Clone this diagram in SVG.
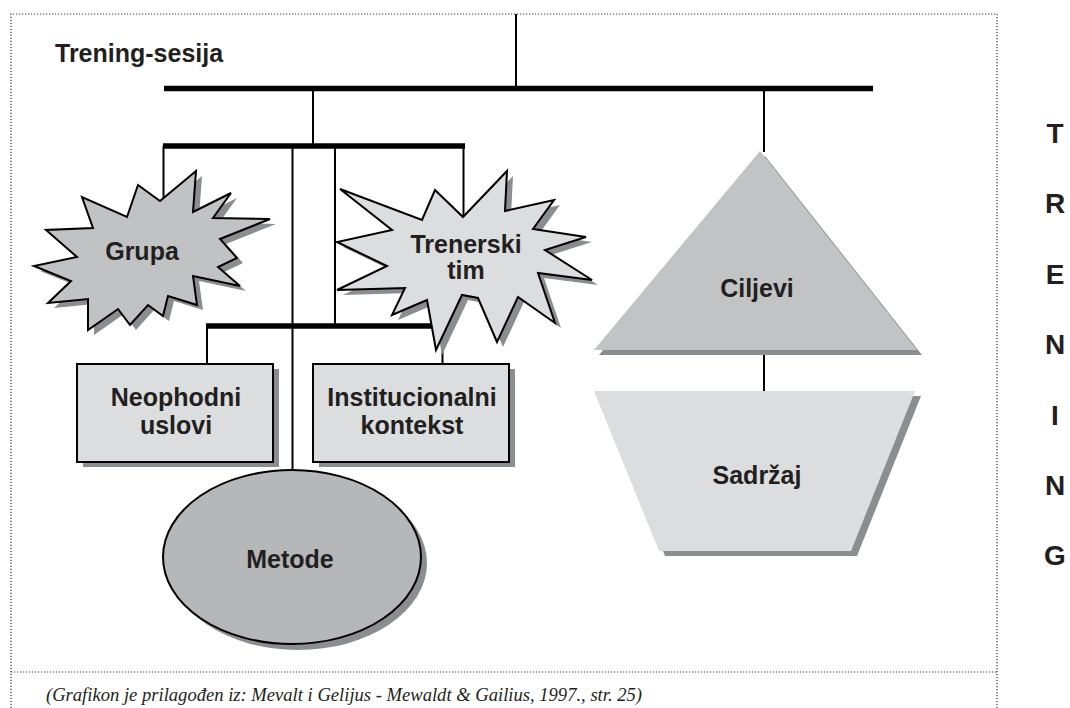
<svg xmlns="http://www.w3.org/2000/svg" xmlns:xlink="http://www.w3.org/1999/xlink" width="1070" height="708" viewBox="0 0 1070 708">
<style>
.dot{fill:none;stroke:#3a3a3a;stroke-width:1.2;stroke-dasharray:1.2 1.8}
.bar{stroke:#000;stroke-width:5.5;fill:none}
.ln{stroke:#000;stroke-width:2;fill:none}
.shadow{fill:#8a8e90;stroke:none}
.star1{fill:#c1c2c4;stroke:#000;stroke-width:2;stroke-linejoin:miter}
.star2{fill:#dcdddf;stroke:#000;stroke-width:2;stroke-linejoin:miter}
.box{fill:#dcdddf;stroke:#000;stroke-width:2}
.ell{fill:#b5b7b9;stroke:#000;stroke-width:2}
.tri{fill:#c1c3c5}
.trap{fill:#dcddde}
.lbl{font-family:"Liberation Sans",Arial,sans-serif;font-weight:bold;font-size:25px;fill:#231f20;text-anchor:middle}
.title{font-family:"Liberation Sans",Arial,sans-serif;font-weight:bold;font-size:25px;fill:#231f20}
.side{font-family:"Liberation Sans",Arial,sans-serif;font-weight:bold;font-size:28px;fill:#231f20;text-anchor:middle}
.cap{font-family:"Liberation Serif","Times New Roman",serif;font-style:italic;font-size:18px;fill:#231f20}
</style>
<defs>
<polygon id="grupaShape" points="138,185 160,201 196,171 193,212 231,193 213,218 270,219 220,239 237,258 218,267 240,286 193,276 197,305 168,296 163,316 148,305 130,325 118,309 88,330 88,299 48,303 71,281 34,266 77,257 46,230 93,228 82,197 127,217"/>
<polygon id="trenerShape" points="507,171 505,211 554,200 533,229 586,237 545,250 592,280 538,273 555,323 518,297 497,342 478,298 462,295 436,350 427,300 392,315 405,288 337,290 387,266 337,242 392,230 340,189 422,220 435,190 463,217"/>
<rect id="neoShape" x="77" y="364" width="196" height="98"/>
<rect id="instShape" x="313" y="364" width="196" height="98"/>
<ellipse id="metShape" cx="292" cy="557" rx="129" ry="87"/>
<polygon id="triShape" points="760,151 917,350 594,350"/>
<polygon id="trapShape" points="594,391 915,391 851,551 659,551"/>
</defs>
<rect width="1070" height="708" fill="#fff"/>
<g id="frame">
<path class="dot" d="M11,708 V14 H997 V708"/>
<path class="dot" d="M11,672 H997"/>
</g>
<g id="connectors">
<line class="ln" x1="516" y1="14" x2="516" y2="86"/>
<line class="bar" x1="164" y1="88.5" x2="873" y2="88.5"/>
<line class="ln" x1="313" y1="91" x2="313" y2="144"/>
<line class="ln" x1="764" y1="91" x2="764" y2="152"/>
<line class="bar" x1="163" y1="146" x2="465" y2="146"/>
<line class="ln" x1="163.5" y1="146" x2="163.5" y2="202"/>
<line class="ln" x1="463.5" y1="146" x2="463.5" y2="218"/>
<line class="ln" x1="292.5" y1="146" x2="292.5" y2="471"/>
<line class="ln" x1="335" y1="146" x2="335" y2="326"/>
<line class="bar" x1="206" y1="326" x2="432" y2="326"/>
<line class="ln" x1="207" y1="326" x2="207" y2="364"/>
<line class="ln" x1="442.5" y1="330" x2="442.5" y2="364"/>
<line class="ln" x1="764" y1="352" x2="764" y2="391"/>
</g>
<g id="node-grupa">
<use xlink:href="#grupaShape" class="shadow" transform="translate(6,5)"/>
<use xlink:href="#grupaShape" class="star1"/>
<text class="lbl" x="142" y="260">Grupa</text>
</g>
<g id="node-trenerski-tim">
<use xlink:href="#trenerShape" class="shadow" transform="translate(6,5)"/>
<use xlink:href="#trenerShape" class="star2"/>
<text class="lbl" x="466" y="253">Trenerski</text>
<text class="lbl" x="466" y="279">tim</text>
</g>
<g id="node-neophodni-uslovi">
<use xlink:href="#neoShape" class="shadow" transform="translate(6,5)"/>
<use xlink:href="#neoShape" class="box"/>
<text class="lbl" x="176" y="406">Neophodni</text>
<text class="lbl" x="176" y="434">uslovi</text>
</g>
<g id="node-institucionalni-kontekst">
<use xlink:href="#instShape" class="shadow" transform="translate(6,5)"/>
<use xlink:href="#instShape" class="box"/>
<text class="lbl" x="412" y="406">Institucionalni</text>
<text class="lbl" x="412" y="434">kontekst</text>
</g>
<g id="node-metode">
<use xlink:href="#metShape" class="shadow" transform="translate(6,6)"/>
<use xlink:href="#metShape" class="ell"/>
<text class="lbl" x="290" y="568">Metode</text>
</g>
<g id="node-ciljevi">
<use xlink:href="#triShape" class="shadow" transform="translate(5,5)"/>
<use xlink:href="#triShape" class="tri"/>
<text class="lbl" x="757" y="297">Ciljevi</text>
</g>
<g id="node-sadrzaj">
<use xlink:href="#trapShape" class="shadow" transform="translate(6,5)"/>
<use xlink:href="#trapShape" class="trap"/>
<text class="lbl" x="757" y="484">Sadržaj</text>
</g>
<g id="title">
<text class="title" x="55" y="62">Trening-sesija</text>
</g>
<g id="side-label">
<text class="side" x="1055" y="143">T</text>
<text class="side" x="1055" y="213">R</text>
<text class="side" x="1055" y="284">E</text>
<text class="side" x="1055" y="354">N</text>
<text class="side" x="1055" y="425">I</text>
<text class="side" x="1055" y="495">N</text>
<text class="side" x="1055" y="565">G</text>
</g>
<g id="caption">
<text class="cap" x="46" y="701" textLength="596" lengthAdjust="spacingAndGlyphs">(Grafikon je prilagođen iz: Mevalt i Gelijus - Mewaldt &amp; Gailius, 1997., str. 25)</text>
</g>
</svg>
